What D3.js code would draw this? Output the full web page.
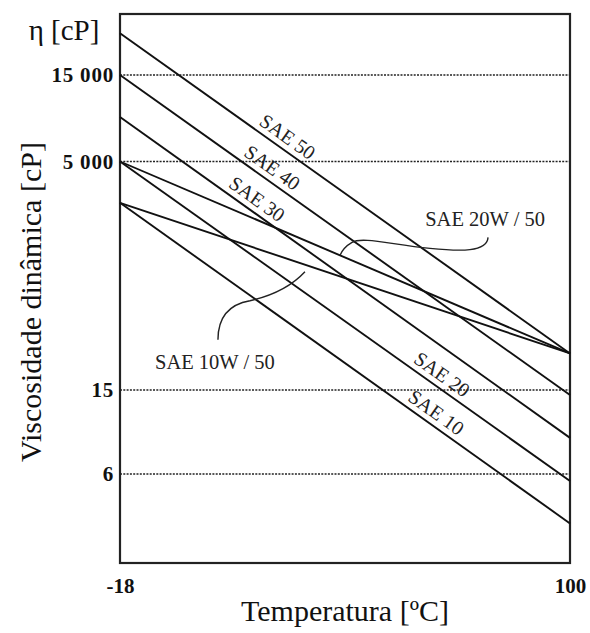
<!DOCTYPE html>
<html>
<head>
<meta charset="utf-8">
<script src="https://cdn.jsdelivr.net/npm/d3@7"></script>
<style>
  html, body { margin: 0; padding: 0; background: #fff; }
  svg { display: block; }
</style>
</head>
<body>
<svg id="chart" width="590" height="633"></svg>
<script>
// ---- data ----
const tempTicks = [-18, 100];
const tempTickLabels = ["-18", "100"];
const viscTicks = [6, 15, 5000, 15000];
const viscTickLabels = ["6", "15", "5 000", "15 000"];

const oilNames   = ["SAE 50", "SAE 40", "SAE 30", "SAE 20", "SAE 10", "SAE 20W / 50", "SAE 10W / 50"];
const oilTemps   = [-18, 100];
const viscColdEnd = [25500, 15000, 8800, 5000, 1750, 5000, 1750];   // at -18 °C
const viscHotEnd  = [38, 14.2, 8.9, 5.56, 3.5, 38, 38];             // at 100 °C

// temperature along each single-grade line where its label sits
const labelTemps = [24, 20, 16, 64.5, 63];

// ---- layout ----
const W = 590, H = 633;
const margin = { top: 14, right: 20, bottom: 70, left: 120 };
const plotW = W - margin.left - margin.right;
const plotH = H - margin.top - margin.bottom;

const svg = d3.select("#chart");
const g = svg.append("g").attr("transform", `translate(${margin.left},${margin.top})`);

const x = d3.scaleLinear().domain(d3.extent(tempTicks)).range([0, plotW]);
// schematic (broken) logarithmic viscosity axis: piecewise log scale
const y = d3.scaleLog()
  .domain(viscTicks)
  .range([plotH - 89, plotH - 173, 147.5, 61]);

// grid lines (dotted)
g.append("g").selectAll("line")
  .data(viscTicks)
  .join("line")
  .attr("x1", 0).attr("x2", plotW)
  .attr("y1", d => y(d)).attr("y2", d => y(d))
  .attr("stroke", "#222")
  .attr("stroke-width", 1.5)
  .attr("stroke-dasharray", "2,1.3");

const tickFont = "'Liberation Serif', serif";
// axes (labels only)
const yAxis = d3.axisLeft(y).tickValues(viscTicks)
  .tickFormat((d, i) => viscTickLabels[i]).tickSize(0).tickPadding(6);
const ya = g.append("g").call(yAxis);
ya.select(".domain").remove();
ya.selectAll("text")
  .attr("font-family", tickFont)
  .attr("font-weight", "bold")
  .attr("font-size", 21)
  .attr("letter-spacing", 0.8)
  .attr("fill", "#111");

const xAxis = d3.axisBottom(x).tickValues(tempTicks)
  .tickFormat((d, i) => tempTickLabels[i]).tickSize(0).tickPadding(15);
const xa = g.append("g").attr("transform", `translate(0,${plotH})`).call(xAxis);
xa.select(".domain").remove();
xa.selectAll("text")
  .attr("font-family", tickFont)
  .attr("font-weight", "bold")
  .attr("font-size", 21)
  .attr("fill", "#111");

// frame
g.append("rect")
  .attr("x", 0).attr("y", 0).attr("width", plotW).attr("height", plotH)
  .attr("fill", "none").attr("stroke", "#222").attr("stroke-width", 2.2);

// oil lines
const oils = oilNames.map((name, i) => ({
  name,
  pts: [{ t: oilTemps[0], v: viscColdEnd[i] }, { t: oilTemps[1], v: viscHotEnd[i] }]
}));
const line = d3.line().x(d => x(d.t)).y(d => y(d.v));

g.append("g").selectAll("path")
  .data(oils)
  .join("path")
  .attr("d", d => line(d.pts))
  .attr("fill", "none")
  .attr("stroke", "#111")
  .attr("stroke-width", 1.9);

// helper: pixel position along a (straight) line
function posOn(oil, t) {
  const x0 = x(oil.pts[0].t), x1 = x(oil.pts[1].t);
  const y0 = y(oil.pts[0].v), y1 = y(oil.pts[1].v);
  const f = (x(t) - x0) / (x1 - x0);
  return { px: x(t), py: y0 + f * (y1 - y0), ang: Math.atan2(y1 - y0, x1 - x0) * 180 / Math.PI };
}

// single-grade labels along the lines
const labG = g.append("g")
  .attr("font-family", "'Liberation Serif', serif")
  .attr("font-size", 20)
  .attr("fill", "#222");
labelTemps.forEach((t, i) => {
  const p = posOn(oils[i], t);
  labG.append("text")
    .attr("transform", `translate(${p.px},${p.py}) rotate(${p.ang})`)
    .attr("y", -6)
    .attr("text-anchor", "middle")
    .text(oils[i].name);
});

// multigrade labels with leaders
const m20 = posOn(oils[5], 39.7);
const m10 = posOn(oils[6], 30.5);
labG.append("text").attr("x", x(99) - 141).attr("y", m20.py - 29).attr("font-size", 20.5).text(oils[5].name);
labG.append("text").attr("x", 35).attr("y", m10.py + 104).attr("font-size", 20.5).text(oils[6].name);

const lead = g.append("g").attr("fill", "none").attr("stroke", "#222").attr("stroke-width", 1.4);
{
  const ex = m20.px, ey = m20.py;
  const p = d3.path();
  p.moveTo(ex + 148, ey - 18);
  p.bezierCurveTo(ex + 147, ey - 3, ex + 120, ey - 4, ex + 90, ey - 7);
  p.bezierCurveTo(ex + 50, ey - 11, ex + 22, ey - 19, ex + 12, ey - 13);
  p.bezierCurveTo(ex + 5, ey - 9, ex + 2, ey - 5, ex, ey);
  lead.append("path").attr("d", p.toString());
}
{
  const ex = m10.px, ey = m10.py + 7;
  const p = d3.path();
  p.moveTo(ex - 87, ey + 68);
  p.bezierCurveTo(ex - 87, ey + 48, ex - 78, ey + 33, ex - 55, ey + 29);
  p.bezierCurveTo(ex - 33, ey + 24, ex - 13, ey + 14, ex, ey);
  lead.append("path").attr("d", p.toString());
}

// axis titles
const titleFont = "'Liberation Serif', serif";
svg.append("text")
  .attr("x", 64).attr("y", 40)
  .attr("text-anchor", "middle")
  .attr("font-family", titleFont).attr("font-size", 29).attr("fill", "#111")
  .text("η [cP]");
svg.append("text")
  .attr("x", margin.left + plotW / 2).attr("y", 621)
  .attr("text-anchor", "middle")
  .attr("font-family", titleFont).attr("font-size", 30).attr("fill", "#111")
  .text("Temperatura [ºC]");
svg.append("text")
  .attr("transform", `translate(41,302) rotate(-90)`)
  .attr("text-anchor", "middle")
  .attr("font-family", titleFont).attr("font-size", 30).attr("fill", "#111")
  .text("Viscosidade dinâmica [cP]");
</script>
</body>
</html>
